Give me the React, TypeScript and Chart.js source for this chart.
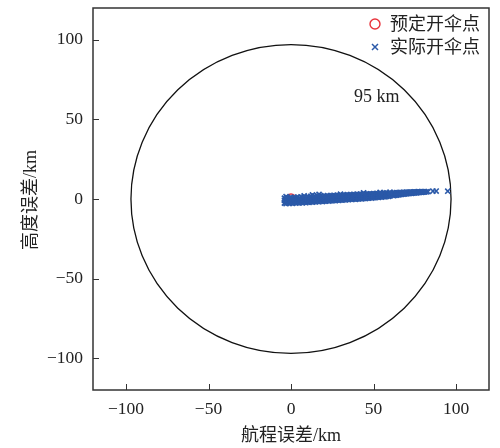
import React, { useEffect, useRef } from "react";
import { Chart, registerables } from "chart.js";

Chart.register(...registerables);

const xTicks = [-100, -50, 0, 50, 100];
const yTicks = [-100, -50, 0, 50, 100];
const circleRadius = [97];
const circleLabel = "95 km";
const circleLabelPos = [52, 64];
const legendLabels = ["预定开伞点", "实际开伞点"];
const xTitle = "航程误差/km";
const yTitle = "高度误差/km";

const plannedX = [0];
const plannedY = [0];

const actualX = [
  -4, -4, -4, -3, -3, -3, -2, -2, -2, -1, -1, -1, 0, 0, 0, 1, 1, 1, 2, 2, 2, 3, 3, 3, 4, 4, 4, 5, 5, 5,
  6, 6, 6, 7, 7, 7, 8, 8, 8, 9, 9, 9, 10, 10, 10, 11, 11, 11, 12, 12, 12, 13, 13, 13, 14, 14, 14, 15, 15, 15,
  16, 16, 16, 17, 17, 17, 18, 18, 18, 19, 19, 19, 20, 20, 20, 21, 21, 21, 22, 22, 22, 23, 23, 23, 24, 24, 24, 25, 25, 25,
  26, 26, 26, 27, 27, 27, 28, 28, 28, 29, 29, 29, 30, 30, 30, 31, 31, 31, 32, 32, 32, 33, 33, 33, 34, 34, 34, 35, 35, 35,
  36, 36, 36, 37, 37, 37, 38, 38, 38, 39, 39, 39, 40, 40, 40, 41, 41, 41, 42, 42, 42, 43, 43, 43, 44, 44, 44, 45, 45, 45,
  46, 46, 46, 47, 47, 47, 48, 48, 48, 49, 49, 49, 50, 50, 50, 51, 51, 51, 52, 52, 52, 53, 53, 53, 54, 54, 54, 55, 55, 55,
  56, 56, 56, 57, 57, 57, 58, 58, 58, 59, 59, 59, 60, 60, 60, 62, 62, 62, 63, 63, 63, 64, 64, 64, 65, 65, 65, 66, 66, 66,
  67, 67, 67, 68, 68, 68, 69, 69, 69, 70, 70, 70, 71, 71, 71, 72, 72, 72, 73, 73, 73, 74, 74, 74, 75, 75, 75, 76, 76, 76,
  77, 77, 77, 78, 78, 78, 79, 79, 79, 80, 80, 81, 81, 82, 83,
  86, 88, 95, -3, 13, 17, 44, 54, 60, 8, 30,
];
const actualY = [
  -2.6, -0.8, 0.5, -2.9, -1.5, 0.2, -2.2, -0.3, 0.9, -2.8, -1.2, 0.6, -2.5, -0.6, 1.0, -2.7, -1.4, 0.3, -2.1, -0.2, 1.1, -2.6, -1.0, 0.7, -2.3, -0.5, 1.2, -2.5, -1.3, 0.4,
  -2.0, -0.1, 1.3, -2.4, -0.9, 0.8, -1.9, -0.4, 1.4, -2.3, -1.1, 0.6, -2.0, 0.0, 1.5, -2.1, -0.7, 1.0, -1.7, 0.2, 1.7, -2.0, -0.6, 0.9, -1.6, 0.4, 1.8, -1.8, -0.3, 1.2,
  -1.5, 0.5, 2.0, -1.7, -0.2, 1.4, -1.3, 0.6, 2.1, -1.6, 0.0, 1.3, -1.3, 0.5, 1.9, -1.4, 0.2, 1.6, -1.1, 0.6, 2.1, -1.3, 0.3, 1.7, -1.0, 0.7, 2.2, -1.1, 0.4, 1.9,
  -0.8, 0.9, 2.3, -1.0, 0.5, 2.0, -0.7, 1.0, 2.4, -0.9, 0.6, 2.1, -0.6, 1.1, 2.5, -0.7, 0.8, 2.2, -0.4, 1.2, 2.6, -0.6, 0.9, 2.3, -0.3, 1.3, 2.7, -0.4, 1.0, 2.4,
  -0.1, 1.4, 2.8, -0.3, 1.1, 2.5, 0.0, 1.5, 2.9, -0.2, 1.2, 2.6, 0.1, 1.6, 3.0, 0.0, 1.3, 2.7, 0.3, 1.7, 3.1, 0.1, 1.5, 2.8, 0.4, 1.8, 3.2, 0.3, 1.6, 2.9,
  0.6, 1.9, 3.2, 0.5, 1.7, 3.0, 0.8, 2.0, 3.3, 0.6, 1.8, 3.1, 0.9, 2.1, 3.4, 0.8, 1.9, 3.2, 1.1, 2.2, 3.5, 1.0, 2.0, 3.3, 1.3, 2.3, 3.6, 1.2, 2.2, 3.4,
  1.5, 2.5, 3.7, 1.4, 2.4, 3.5, 1.7, 2.6, 3.8, 1.6, 2.5, 3.6, 1.9, 2.7, 3.8, 2.1, 2.9, 3.9, 2.3, 2.8, 3.8, 2.4, 3.1, 4.0, 2.6, 3.0, 3.9, 2.7, 3.3, 4.1,
  2.9, 3.2, 4.0, 3.0, 3.5, 4.2, 3.2, 3.4, 4.1, 3.3, 3.6, 4.3, 3.4, 3.8, 4.2, 3.5, 3.9, 4.4, 3.6, 4.0, 4.3, 3.7, 4.1, 4.4, 3.8, 4.1, 4.5, 3.9, 4.2, 4.4,
  4.0, 4.3, 4.6, 4.1, 4.3, 4.5, 4.2, 4.4, 4.6, 4.3, 4.5, 4.4, 4.6, 4.5, 4.6,
  5.0, 5.0, 4.9, 1.5, 2.6, 2.9, 3.9, 4.1, 4.3, 2.0, 3.0,
];

const FONT = "'Liberation Serif', 'Noto Sans CJK SC', serif";
const BLUE = "#2b59a8";
const RED = "#e8333c";

const framePlugin = {
  id: "frame",
  beforeDatasetsDraw(chart: any) {
    const { ctx, chartArea, scales } = chart;
    const xs = scales.x;
    const ys = scales.y;
    const cx = xs.getPixelForValue(0);
    const cy = ys.getPixelForValue(0);
    const rx = Math.abs(xs.getPixelForValue(circleRadius[0]) - cx);
    const ry = Math.abs(ys.getPixelForValue(circleRadius[0]) - cy);
    ctx.save();
    ctx.beginPath();
    ctx.rect(chartArea.left, chartArea.top, chartArea.right - chartArea.left, chartArea.bottom - chartArea.top);
    ctx.clip();
    ctx.beginPath();
    ctx.ellipse(cx, cy, rx, ry, 0, 0, Math.PI * 2);
    ctx.strokeStyle = "#111";
    ctx.lineWidth = 1.3;
    ctx.stroke();
    ctx.restore();

    ctx.save();
    ctx.fillStyle = "#222";
    ctx.font = `18px ${FONT}`;
    ctx.textAlign = "center";
    ctx.textBaseline = "middle";
    ctx.fillText(circleLabel, xs.getPixelForValue(circleLabelPos[0]), ys.getPixelForValue(circleLabelPos[1]));
    ctx.restore();
  },
  afterDraw(chart: any) {
    const { ctx, chartArea, scales } = chart;
    const { left, right, top, bottom } = chartArea;
    ctx.save();
    ctx.strokeStyle = "#333";
    ctx.lineWidth = 1.5;
    ctx.strokeRect(left, top, right - left, bottom - top);
    ctx.lineWidth = 1;
    ctx.beginPath();
    xTicks.forEach((v) => {
      const px = Math.round(scales.x.getPixelForValue(v)) + 0.5;
      ctx.moveTo(px, bottom);
      ctx.lineTo(px, bottom - 6);
    });
    yTicks.forEach((v) => {
      const py = Math.round(scales.y.getPixelForValue(v)) + 0.5;
      ctx.moveTo(left, py);
      ctx.lineTo(left + 6, py);
    });
    ctx.stroke();

    ctx.fillStyle = "#222";
    ctx.font = `18px ${FONT}`;
    ctx.textAlign = "center";
    ctx.textBaseline = "middle";
    ctx.fillText(xTitle, (left + right) / 2, bottom + 46);
    ctx.save();
    ctx.translate(left - 62, (top + bottom) / 2 + 1);
    ctx.rotate(-Math.PI / 2);
    ctx.fillText(yTitle, 0, 0);
    ctx.restore();

    const lx = right - 114;
    const ly1 = top + 16;
    const ly2 = top + 39;
    ctx.beginPath();
    ctx.arc(lx, ly1, 5, 0, Math.PI * 2);
    ctx.strokeStyle = RED;
    ctx.lineWidth = 1.4;
    ctx.stroke();
    ctx.beginPath();
    ctx.moveTo(lx - 3, ly2 - 3);
    ctx.lineTo(lx + 3, ly2 + 3);
    ctx.moveTo(lx + 3, ly2 - 3);
    ctx.lineTo(lx - 3, ly2 + 3);
    ctx.strokeStyle = BLUE;
    ctx.lineWidth = 1.5;
    ctx.stroke();
    ctx.fillStyle = "#222";
    ctx.textAlign = "left";
    ctx.fillText(legendLabels[0], lx + 15, ly1 + 1);
    ctx.fillText(legendLabels[1], lx + 15, ly2 + 1);
    ctx.restore();
  },
};

const fmt = (v: number) => String(v).replace("-", "\u2212");

export default function App() {
  const ref = useRef<HTMLCanvasElement | null>(null);
  useEffect(() => {
    document.body.style.margin = "0";
    const chart = new Chart(ref.current as HTMLCanvasElement, {
      type: "scatter",
      data: {
        datasets: [
          {
            label: legendLabels[1],
            data: actualX.map((x, i) => ({ x, y: actualY[i] })),
            pointStyle: "crossRot",
            pointRadius: 3.6,
            borderColor: BLUE,
            backgroundColor: BLUE,
            pointBorderWidth: 1.6,
            order: 1,
          },
          {
            label: legendLabels[0],
            data: plannedX.map((x, i) => ({ x, y: plannedY[i] })),
            pointStyle: "circle",
            pointRadius: 5,
            borderColor: RED,
            backgroundColor: "rgba(0,0,0,0)",
            pointBorderWidth: 1.3,
            order: 2,
          },
        ],
      },
      options: {
        animation: false,
        responsive: true,
        maintainAspectRatio: false,
        layout: { padding: { top: 8, right: 11, bottom: 0, left: 0 } },
        plugins: { legend: { display: false }, tooltip: { enabled: false } },
        scales: {
          x: {
            type: "linear",
            min: -120,
            max: 120,
            grid: { display: false, drawTicks: false },
            border: { display: false },
            afterBuildTicks: (s: any) => {
              s.ticks = xTicks.map((v) => ({ value: v }));
            },
            afterFit: (s: any) => {
              s.height = 58;
              s.paddingLeft = 0;
              s.paddingRight = 0;
            },
            ticks: { padding: 9, color: "#222", font: { family: FONT, size: 17.5 }, callback: (v: any) => fmt(v), maxRotation: 0 },
          },
          y: {
            type: "linear",
            min: -120,
            max: 120,
            grid: { display: false, drawTicks: false },
            border: { display: false },
            afterBuildTicks: (s: any) => {
              s.ticks = yTicks.map((v) => ({ value: v }));
            },
            afterFit: (s: any) => {
              s.width = 93;
              s.paddingTop = 0;
              s.paddingBottom = 0;
            },
            ticks: { padding: 10, color: "#222", font: { family: FONT, size: 17.5 }, callback: (v: any) => fmt(v) },
          },
        },
      },
      plugins: [framePlugin],
    });
    return () => chart.destroy();
  }, []);
  return (
    <div style={{ width: 500, height: 448, position: "relative" }}>
      <canvas ref={ref} />
    </div>
  );
}
